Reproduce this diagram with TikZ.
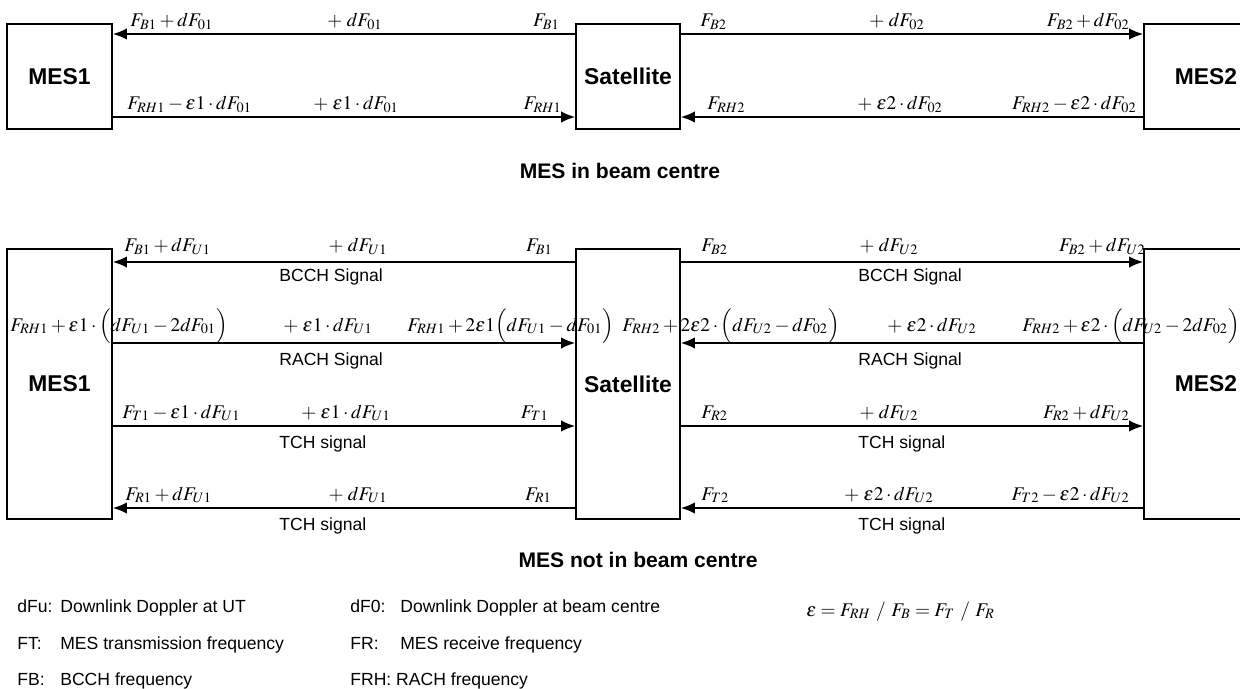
\documentclass[tikz,border=0pt]{standalone}
\usepackage{mathptmx}
\usepackage[no-math]{fontspec}
\setmainfont{Liberation Sans}
\usetikzlibrary{arrows.meta,positioning,calc}

\begin{document}
\begin{tikzpicture}[x=0.02cm,y=-0.02cm,
  unit/.style={draw,line width=0.9pt,inner sep=0pt,font=\bfseries\fontsize{13}{15}\selectfont},
  link/.style={line width=1.1pt,-{Latex[length=8pt,width=6.5pt]}},
  lbl/.style={inner sep=0pt,font=\fontsize{11}{13}\selectfont},
  sig/.style={inner sep=0pt,anchor=base west,font=\fontsize{10}{12}\selectfont},
  heading/.style={font=\bfseries\fontsize{12}{14}\selectfont},
  key/.style={inner sep=0pt,anchor=base west,font=\fontsize{10}{12}\selectfont}]
  \useasboundingbox (0,0) rectangle (1240,689);

  \node[unit,minimum width=2.1cm,minimum height=2.1cm] (mes1c) at (59.5,76.5) {MES1};
  \node[unit,minimum width=2.08cm,minimum height=2.1cm] (satc) at (628,76.5) {Satellite};
  \node[unit,minimum width=2.48cm,minimum height=2.1cm] (mes2c) at (1206,76.5) {MES2};
  \node[unit,minimum width=2.1cm,minimum height=5.4cm] (mes1o) at (59.5,384) {MES1};
  \node[unit,minimum width=2.08cm,minimum height=5.4cm] (sato) at (628,384) {Satellite};
  \node[unit,minimum width=2.48cm,minimum height=5.4cm] (mes2o) at (1206,384) {MES2};

  \coordinate (t1) at (0,34);
  \coordinate (t2) at (0,117);
  \coordinate (b1) at (0,262);
  \coordinate (b2) at (0,343);
  \coordinate (b3) at (0,426);
  \coordinate (b4) at (0,508);

  \draw[link] (satc.west |- t1) -- (mes1c.east |- t1);
  \draw[link] (mes1c.east |- t2) -- (satc.west |- t2);
  \draw[link] (satc.east |- t1) -- (mes2c.west |- t1);
  \draw[link] (mes2c.west |- t2) -- (satc.east |- t2);
  \foreach \r in {b1,b4}{
    \draw[link] (sato.west |- \r) -- (mes1o.east |- \r);
  }
  \foreach \r in {b2,b3}{
    \draw[link] (mes1o.east |- \r) -- (sato.west |- \r);
  }
  \foreach \r in {b1,b3}{
    \draw[link] (sato.east |- \r) -- (mes2o.west |- \r);
  }
  \foreach \r in {b2,b4}{
    \draw[link] (mes2o.west |- \r) -- (sato.east |- \r);
  }

  \foreach \n/\x/\y/\t in {
    la1/130/27/{F_{B1}+dF_{01}},
    la4/127/110/{F_{RH1}-\varepsilon1\cdot dF_{01}},
    lb1/700/27/{F_{B2}},
    lb4/707/110/{F_{RH2}},
    lc1/124/252/{F_{B1}+dF_{U1}},
    lc4/10/331/{F_{RH1}+\varepsilon1\cdot\Big(dF_{U1}-2dF_{01}\Big)},
    lc6/407/331/{F_{RH1}+2\varepsilon1\Big(dF_{U1}-dF_{01}\Big)},
    lc7/122/418/{F_{T1}-\varepsilon1\cdot dF_{U1}},
    lc10/125/500/{F_{R1}+dF_{U1}},
    ld1/701/252/{F_{B2}},
    ld4/622/331/{F_{RH2}+2\varepsilon2\cdot\Big(dF_{U2}-dF_{02}\Big)},
    ld6/1022/331/{F_{RH2}+\varepsilon2\cdot\Big(dF_{U2}-2dF_{02}\Big)},
    ld7/701/418/{F_{R2}},
    ld10/701/500/{F_{T2}}}{
    \node[lbl,anchor=base west] (\n) at (\x,\y) {$\t$};
  }
  \foreach \n/\x/\y/\t in {
    ma2/355/27/{dF_{01}},
    ma5/356/110/{\varepsilon1\cdot dF_{01}},
    mb2/897/27/{dF_{02}},
    mb5/900/110/{\varepsilon2\cdot dF_{02}},
    mc2/358/252/{dF_{U1}},
    mc5/328/331/{\varepsilon1\cdot dF_{U1}},
    mc8/346/418/{\varepsilon1\cdot dF_{U1}},
    mc11/358/500/{dF_{U1}},
    md2/889/252/{dF_{U2}},
    md5/932/331/{\varepsilon2\cdot dF_{U2}},
    md8/889/418/{dF_{U2}},
    md11/889/500/{\varepsilon2\cdot dF_{U2}}}{
    \node[lbl,anchor=base] (\n) at (\x,\y) {$+\;\t$};
  }
  \foreach \n/\x/\y/\t in {
    ra3/560/27/{F_{B1}},
    ra6/562/110/{F_{RH1}},
    rb3/1130/27/{F_{B2}+dF_{02}},
    rb6/1137/110/{F_{RH2}-\varepsilon2\cdot dF_{02}},
    rc3/553/252/{F_{B1}},
    rc9/549/418/{F_{T1}},
    rc12/552/500/{F_{R1}},
    rd3/1146/252/{F_{B2}+dF_{U2}},
    rd9/1130/418/{F_{R2}+dF_{U2}},
    rd12/1130/500/{F_{T2}-\varepsilon2\cdot dF_{U2}}}{
    \node[lbl,anchor=base east] (\n) at (\x,\y) {$\t$};
  }

  \foreach \n/\x/\y/\t in {sc1/279/281/BCCH Signal,sc2/279/365/RACH Signal,
    sc3/279/448/TCH signal,sc4/279/530/TCH signal,sd1/858/281/BCCH Signal,
    sd2/858/365/RACH Signal,sd3/858/448/TCH signal,sd4/858/530/TCH signal}{
    \node[sig] (\n) at (\x,\y) {\t};
  }

  \node[heading] (capc) at (620,171) {MES in beam centre};
  \node[heading] (capo) at (638,560) {MES not in beam centre};

  \node[key] (k1) at (17,612) {\makebox[0.86cm][l]{dFu:}Downlink Doppler at UT};
  \node[key] (k2) at (17,649) {\makebox[0.86cm][l]{FT:}MES transmission frequency};
  \node[key] (k3) at (17,685) {\makebox[0.86cm][l]{FB:}BCCH frequency};
  \node[key] (k4) at (350,612) {\makebox[1cm][l]{dF0:}Downlink Doppler at beam centre};
  \node[key] (k5) at (350,649) {\makebox[1cm][l]{FR:}MES receive frequency};
  \node[key] (k6) at (350,685) {FRH: RACH frequency};
  \node[key,font=\fontsize{11}{13}\selectfont] (k7) at (806,616) {$\varepsilon = F_{RH}\ /\ F_{B} = F_{T}\ /\ F_{R}$};
\end{tikzpicture}
\end{document}
